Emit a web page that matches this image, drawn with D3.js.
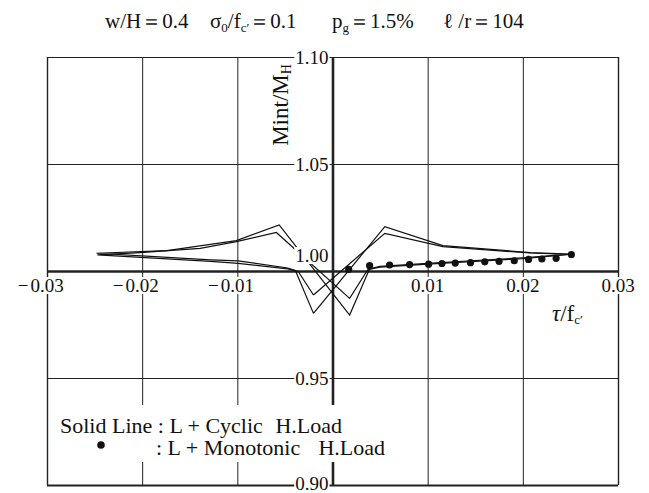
<!DOCTYPE html>
<html>
<head>
<meta charset="utf-8">
<script src="https://cdn.jsdelivr.net/npm/d3@7"></script>
<style>
  body { margin: 0; background: #fff; }
  svg text { font-family: "Liberation Serif", "DejaVu Serif", serif; fill: #111; }
</style>
</head>
<body>
<div id="chart"></div>
<script>
// tick values and labels
const xTicks = [-0.03, -0.02, -0.01, 0, 0.01, 0.02, 0.03];
const xTickLabels = ['0.03', '0.02', '0.01', '', '0.01', '0.02', '0.03'];
const yTicks = [0.90, 0.95, 1.00, 1.05, 1.10];
const yTickLabels = ['0.90', '0.95', '1.00', '1.05', '1.10'];

// cyclic loading, loop A (deeper dips, higher peaks)
const cycATau = [-0.0020, 0.0055, 0.0116, 0.0208, 0.0250, 0.0200, 0.0100, 0.0050, 0.0039, 0.0018,
                 -0.0056, -0.0101, -0.0174, -0.0248, -0.0128, -0.0099, -0.0047, -0.0039, -0.0020];
const cycAM   = [0.9802, 1.0207, 1.0119, 1.0086, 1.0079, 1.0062, 1.0036, 1.0022, 1.0010, 0.9794,
                 1.0215, 1.0142, 1.0095, 1.0083, 1.0052, 1.0047, 1.0014, 1.0002, 0.9802];

// cyclic loading, loop B
const cycBTau = [-0.0020, 0.0055, 0.0116, 0.0208, 0.0249, 0.0200, 0.0100, 0.0050, 0.0037, 0.0018,
                 -0.0059, -0.0101, -0.0139, -0.0202, -0.0247, -0.0128, -0.0099, -0.0047, -0.0036, -0.0020];
const cycBM   = [0.9888, 1.0176, 1.0114, 1.0084, 1.0077, 1.0058, 1.0032, 1.0018, 1.0006, 0.9872,
                 1.0180, 1.0137, 1.0106, 1.0086, 1.0075, 1.0045, 1.0036, 1.0010, 0.9998, 0.9888];

// monotonic loading (dots)
const monoTau = [0.0017, 0.0039, 0.0060, 0.0081, 0.0101, 0.0115, 0.0129, 0.0145, 0.0160,
                 0.0175, 0.0191, 0.0206, 0.0220, 0.0235, 0.0251];
const monoM   = [1.0008, 1.0025, 1.0028, 1.0030, 1.0032, 1.0035, 1.0037, 1.0039, 1.0043,
                 1.0045, 1.0048, 1.0054, 1.0056, 1.0059, 1.0077];

const SERIF = '"Liberation Serif", "Times New Roman", "DejaVu Serif", serif';

function drawChart() {
  const W = 649, H = 493;
  const left = 47, right = 618, top = 57, bottom = 485;

  const svg = d3.select('#chart').html('').append('svg')
                .attr('width', W)
                .attr('height', H)
                .attr('font-family', SERIF)
                .style('font-family', SERIF);
  svg.append('rect').attr('width', W).attr('height', H).attr('fill', '#fff');

  const x = d3.scaleLinear().domain([-0.03, 0.03]).range([left, right]);
  const y = d3.scaleLinear().domain([0.90, 1.10]).range([bottom, top]);

  // vertical grid lines
  const gx = svg.append('g')
     .attr('transform', `translate(0,${bottom})`)
     .call(d3.axisBottom(x).tickValues(xTicks).tickSize(-(bottom - top)).tickFormat(''));
  gx.select('.domain').remove();
  gx.selectAll('.tick line')
     .attr('stroke', '#222')
     .attr('stroke-width', d => d === 0 ? 2.6 : (Math.abs(d) > 0.029 ? 1.4 : 1));

  // horizontal grid lines
  const gy = svg.append('g')
     .attr('transform', `translate(${left},0)`)
     .call(d3.axisLeft(y).tickValues(yTicks).tickSize(-(right - left)).tickFormat(''));
  gy.select('.domain').remove();
  gy.selectAll('.tick line')
     .attr('stroke', '#222')
     .attr('stroke-width', d => Math.abs(d - 1) < 1e-9 ? 2.6 : (d < 0.91 ? 1.8 : (d > 1.09 ? 1.2 : 1)));

  // cyclic loops
  const line = d3.line().x(d => x(d[0])).y(d => y(d[1]));
  [[cycATau, cycAM], [cycBTau, cycBM]].forEach(([t, m]) => {
    svg.append('path')
       .attr('d', line(t.map((v, i) => [v, m[i]])))
       .attr('fill', 'none')
       .attr('stroke', '#111')
       .attr('stroke-width', 1.2)
       .attr('stroke-linejoin', 'miter');
  });

  // monotonic dots
  svg.selectAll('circle.mono')
     .data(monoTau.map((v, i) => [v, monoM[i]]))
     .join('circle')
     .attr('class', 'mono')
     .attr('cx', d => x(d[0]))
     .attr('cy', d => y(d[1]))
     .attr('r', 3.6)
     .attr('fill', '#111');

  // label with white backing
  function label(g, txt, px, py, anchor, size) {
    const t = g.append('text')
       .attr('x', px).attr('y', py)
       .attr('text-anchor', anchor)
       .attr('font-size', size)
       .text(txt);
    const b = t.node().getBBox();
    g.insert('rect', 'text')
     .attr('x', b.x - 1).attr('y', b.y + 2)
     .attr('width', b.width + 2).attr('height', b.height - 4)
     .attr('fill', '#fff');
    return t;
  }

  // x tick labels: number centred on the tick, minus sign hanging left
  xTicks.forEach((v, i) => {
    if (!xTickLabels[i]) return;
    const g = svg.append('g');
    const t = label(g, xTickLabels[i], x(v), 292, 'middle', 19);
    if (v < 0) {
      const w = t.node().getComputedTextLength();
      label(g, '\u2212', x(v) - w / 2 - 2, 292, 'end', 19);
    }
  });

  // y tick labels
  yTicks.forEach((v, i) => {
    const g = svg.append('g');
    let py = y(v) + 7;
    if (Math.abs(v - 1) < 1e-9) py = y(v) - 9;
    if (v < 0.91) py = y(v) + 5;
    label(g, yTickLabels[i], x(0) - 4, py, 'end', 19);
  });

  // title
  const title = svg.append('g').attr('font-size', 21);
  const sub = (sel, s) => sel.append('tspan').attr('font-size', 13).attr('dy', 4).text(s);
  let t = title.append('text').attr('x', 105).attr('y', 28);
  t.append('tspan').text('w/H\uFF1D0.4');
  t = title.append('text').attr('x', 210).attr('y', 28);
  t.append('tspan').text('\u03C3');
  sub(t, '0');
  t.append('tspan').attr('dy', -4).text('/f');
  sub(t, 'c\u2032');
  t.append('tspan').attr('dy', -4).text('\uFF1D0.1');
  t = title.append('text').attr('x', 332).attr('y', 28);
  t.append('tspan').text('p');
  sub(t, 'g');
  t.append('tspan').attr('dy', -4).text('\uFF1D1.5%');
  t = title.append('text').attr('x', 443).attr('y', 28);
  t.append('tspan').text('\u2113 /r\uFF1D104');

  // y axis title
  const yt = svg.append('text')
     .attr('transform', `translate(288,105) rotate(-90)`)
     .attr('text-anchor', 'middle')
     .attr('font-size', 23);
  yt.append('tspan').text('Mint/M');
  yt.append('tspan').attr('font-size', 14).attr('dy', 3).text('H');

  // x axis title
  const xt = svg.append('text').attr('x', 552).attr('y', 321).attr('font-size', 23);
  xt.append('tspan').attr('font-style', 'italic').text('\u03C4');
  xt.append('tspan').text('/f');
  xt.append('tspan').attr('font-size', 13).attr('dy', 3).text('c\u2032');

  // legend
  const lg = svg.append('g').attr('font-size', 22);
  const word = (txt, px, py, anchor) =>
    lg.append('text').attr('x', px).attr('y', py).attr('text-anchor', anchor || 'start').text(txt);
  lg.append('rect').attr('x', 55).attr('y', 405).attr('width', 335).attr('height', 57).attr('fill', '#fff');
  word('Solid Line : L + Cyclic', 60, 433);
  word('H.Load', 342, 433, 'end');
  lg.append('circle').attr('cx', 101).attr('cy', 445).attr('r', 3.8).attr('fill', '#111');
  word(': L + Monotonic', 156, 455);
  word('H.Load', 385, 455, 'end');
}

window.addEventListener('load', drawChart);
</script>
</body>
</html>
